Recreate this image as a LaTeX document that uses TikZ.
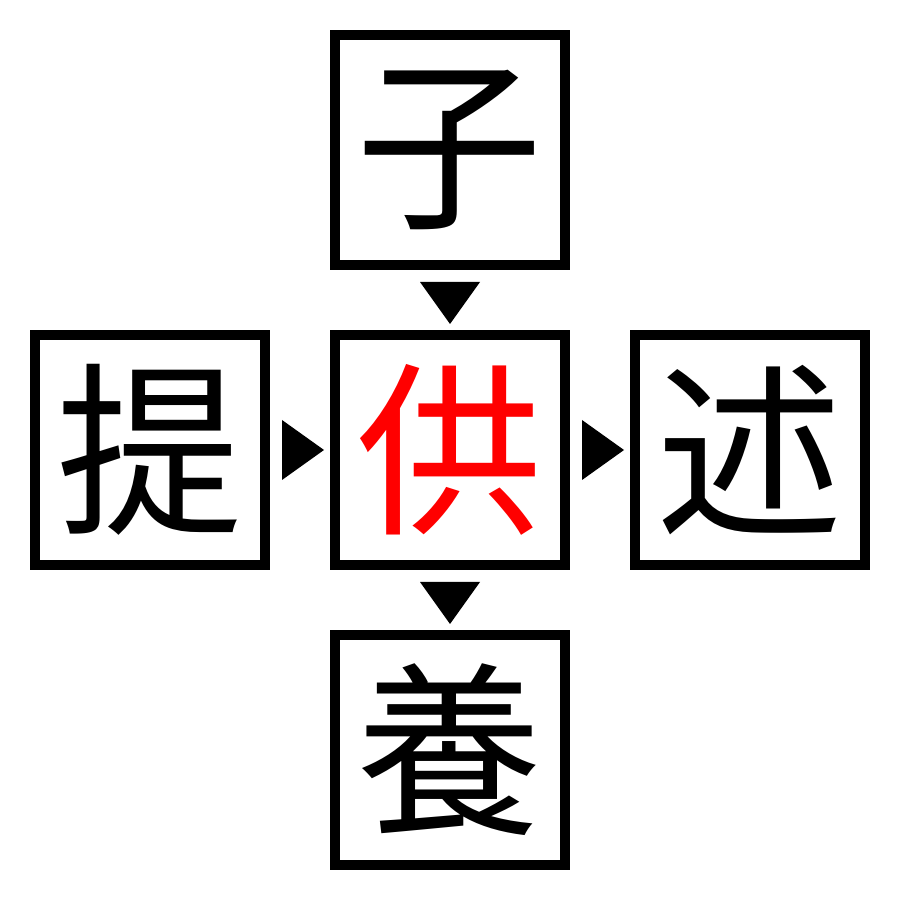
\documentclass[tikz,border=0pt]{standalone}
\usepackage{fontspec}
\newfontfamily\cjk{Noto Sans CJK JP}
\usetikzlibrary{positioning, calc}
\tikzset{
node distance=3cm, % centre to centre, used with on grid
on grid,
kanji/.style={draw, line width=1mm, minimum size=2.3cm, inner sep=0pt, font=\cjk\fontsize{53}{53}\selectfont}, % one box with its character
tri/.style={fill=black}, % the small pointer between two boxes
}
\begin{document}
\begin{tikzpicture}
        \useasboundingbox (0,0) rectangle (9,9);
        \node [kanji, text=red] (gong) at (4.5,4.5) {供};
        \node [kanji] (zi) [above=of gong] {子};
        \node [kanji] (ti) [left=of gong] {提};
        \node [kanji] (shu) [right=of gong] {述};
        \node [kanji] (yang) [below=of gong] {養};
        % pointers
        \fill [tri] ($(zi.south)+(-0.3,-0.12)$) -- ++(0.6,0) -- ($(gong.north)+(0,0.06)$) -- cycle;
        \fill [tri] ($(gong.south)+(-0.3,-0.12)$) -- ++(0.6,0) -- ($(yang.north)+(0,0.06)$) -- cycle;
        \fill [tri] ($(ti.east)+(0.12,0.3)$) -- ++(0,-0.6) -- ($(gong.west)+(-0.06,0)$) -- cycle;
        \fill [tri] ($(gong.east)+(0.12,0.3)$) -- ++(0,-0.6) -- ($(shu.west)+(-0.06,0)$) -- cycle;
\end{tikzpicture}
\end{document}
